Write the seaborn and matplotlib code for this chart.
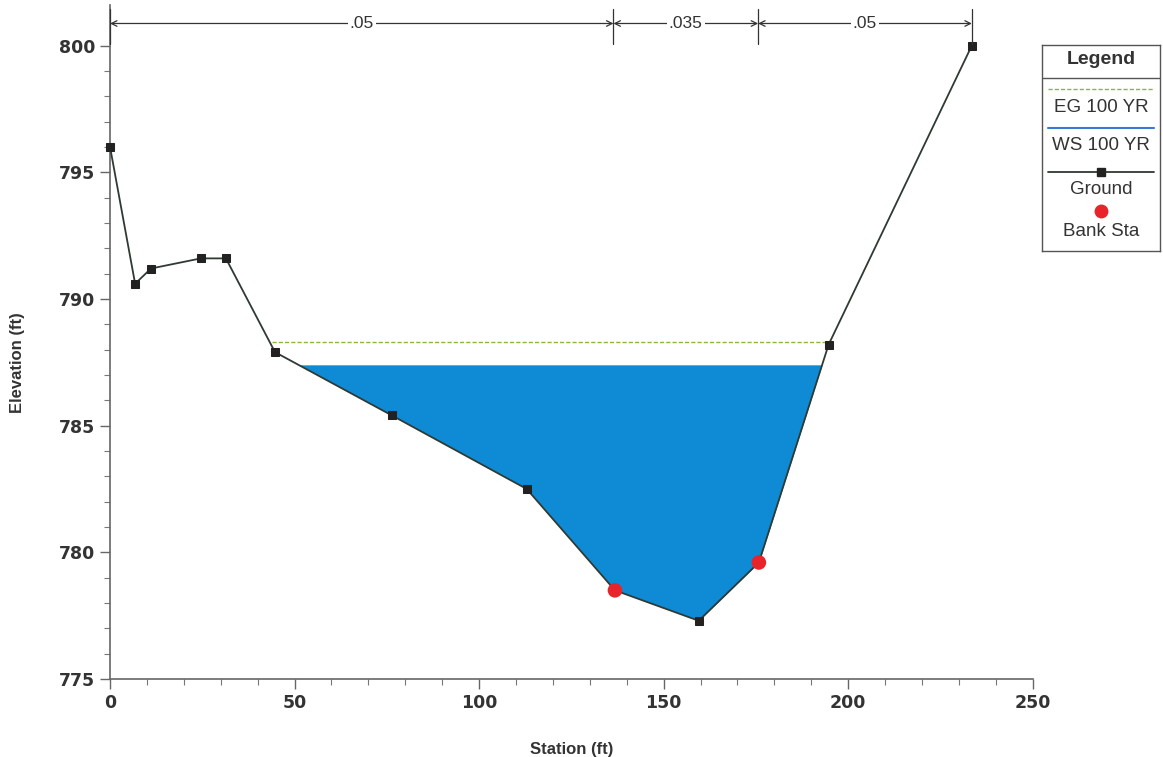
import numpy as np
import pandas as pd
import matplotlib
matplotlib.use("Agg")
import matplotlib.pyplot as plt
import seaborn as sns

# ---- data ----
station = [0, 6.8, 11.1, 24.6, 31.4, 44.7, 76.4, 112.9, 136.8, 159.5, 175.8, 194.7, 233.5]
elevation = [796.0, 790.6, 791.2, 791.6, 791.6, 787.9, 785.4, 782.5, 778.5, 777.3, 779.6, 788.2, 800.0]
is_bank = [False, False, False, False, False, False, False, False, True, False, True, False, False]
bank_sta = [136.8, 175.8]
bank_elev = [778.5, 779.6]
ws_elev = 787.4
eg_elev = 788.3
eg_extent = [44.0, 194.5]
n_labels = [".05", ".035", ".05"]
n_bounds = [0, 136.4, 175.6, 233.5]
legend_labels = ["EG 100 YR", "WS 100 YR", "Ground", "Bank Sta"]

sns.set_style("white")
plt.rcParams['font.family'] = ['Liberation Sans', 'DejaVu Sans']

fig = plt.figure(figsize=(11.63, 7.57), dpi=100)
ax = fig.add_axes([0.0946, 0.103, 0.7934, 0.8904])

ground = pd.DataFrame({"Station": station, "Elevation": elevation})
xs = np.array(station, dtype=float)
gy = np.array(elevation, dtype=float)

# water fill
xf = np.linspace(xs.min(), xs.max(), 6000)
yf = np.interp(xf, xs, gy)
mask = (yf < ws_elev) & (xf > 40) & (xf < 200)
ax.fill_between(xf, yf, ws_elev, where=mask, color="#0f8bd6", linewidth=0, zorder=1)

# EG line
ax.plot(eg_extent, [eg_elev, eg_elev], color="#8ab83a", lw=1.0, ls=(0, (3, 1.5)), zorder=2)

# ground
marks = [i for i, b in enumerate(is_bank) if not b]
sns.lineplot(data=ground, x="Station", y="Elevation", ax=ax, color="#2f3a33", lw=1.3,
             marker="s", markersize=6, markerfacecolor="#222222", markeredgecolor="#222222",
             markevery=marks, sort=False, zorder=3, clip_on=False)
sns.scatterplot(x=bank_sta, y=bank_elev, ax=ax, color="#e8232a", s=110, edgecolor="none", zorder=4)

ax.set_xlim(0, 250)
ax.set_ylim(775, 801.6)
ax.set_xticks([0, 50, 100, 150, 200, 250])
ax.set_yticks([775, 780, 785, 790, 795, 800])
ax.set_xticks(np.arange(0, 251, 10), minor=True)
ax.set_yticks(np.arange(775, 801, 1), minor=True)
for s in ["top", "right"]:
    ax.spines[s].set_visible(False)
for s in ["left", "bottom"]:
    ax.spines[s].set_color("#666666")
    ax.spines[s].set_linewidth(1.2)
ax.tick_params(axis="both", which="major", direction="out", length=7, width=1.0, color="#666666",
               labelsize=12.5, labelcolor="#333333", bottom=True, left=True)
ax.tick_params(axis="both", which="minor", direction="out", length=4, width=0.8, color="#777777",
               bottom=True, left=True)
for lab in ax.get_xticklabels() + ax.get_yticklabels():
    lab.set_fontweight("bold")
    lab.set_family(["DejaVu Sans"])
ax.set_xlabel("Station (ft)", fontsize=12, fontweight="bold", color="#333333", labelpad=22)
ax.set_ylabel("Elevation (ft)", fontsize=12, fontweight="bold", color="#333333")
ax.yaxis.set_label_coords(-0.092, (787.5 - 775) / 26.6)

# Manning's n brackets
ybr = 800.87
for b in n_bounds:
    ax.plot([b, b], [800.05, 801.45], color="#333333", lw=0.9, clip_on=False, zorder=5)
for i, lab in enumerate(n_labels):
    a, b = n_bounds[i], n_bounds[i + 1]
    mid = (a + b) / 2
    ax.text(mid, ybr, lab, ha="center", va="center", fontsize=12.5, color="#333333",
            bbox=dict(facecolor="white", edgecolor="none", pad=1.5), zorder=7)
    ax.annotate("", xy=(a, ybr), xytext=(mid, ybr),
                arrowprops=dict(arrowstyle="->", color="#333333", lw=0.9, shrinkA=0, shrinkB=0), zorder=6)
    ax.annotate("", xy=(b, ybr), xytext=(mid, ybr),
                arrowprops=dict(arrowstyle="->", color="#333333", lw=0.9, shrinkA=0, shrinkB=0), zorder=6)

# legend panel
lax = fig.add_axes([1042 / 1163, 1 - 251 / 757, 118 / 1163, 206 / 757])
lax.set_xlim(0, 1)
lax.set_ylim(206, 0)
lax.set_xticks([]); lax.set_yticks([])
for s in lax.spines.values():
    s.set_color("#555555"); s.set_linewidth(1.0)
lax.text(0.5, 15, "Legend", ha="center", va="center", fontsize=14, fontweight="bold", color="#333333")
lax.plot([0, 1], [33, 33], color="#555555", lw=1.0)
lax.plot([0.05, 0.95], [44, 44], color="#8ab83a", lw=1.0, ls=(0, (3, 1.5)))
lax.text(0.5, 62, legend_labels[0], ha="center", va="center", fontsize=13.5, color="#333333")
lax.plot([0.05, 0.95], [83, 83], color="#3a78d8", lw=1.5)
lax.text(0.5, 101, legend_labels[1], ha="center", va="center", fontsize=13.5, color="#333333")
lax.plot([0.05, 0.95], [127, 127], color="#2f3a33", lw=1.3)
lax.plot([0.5], [127], marker="s", color="#222222", markersize=6)
lax.text(0.5, 145, legend_labels[2], ha="center", va="center", fontsize=13.5, color="#333333")
lax.plot([0.5], [166], marker="o", color="#e8232a", markersize=10, markeredgecolor="none")
lax.text(0.5, 186, legend_labels[3], ha="center", va="center", fontsize=13.5, color="#333333")

fig.savefig("out.png", dpi=100)
